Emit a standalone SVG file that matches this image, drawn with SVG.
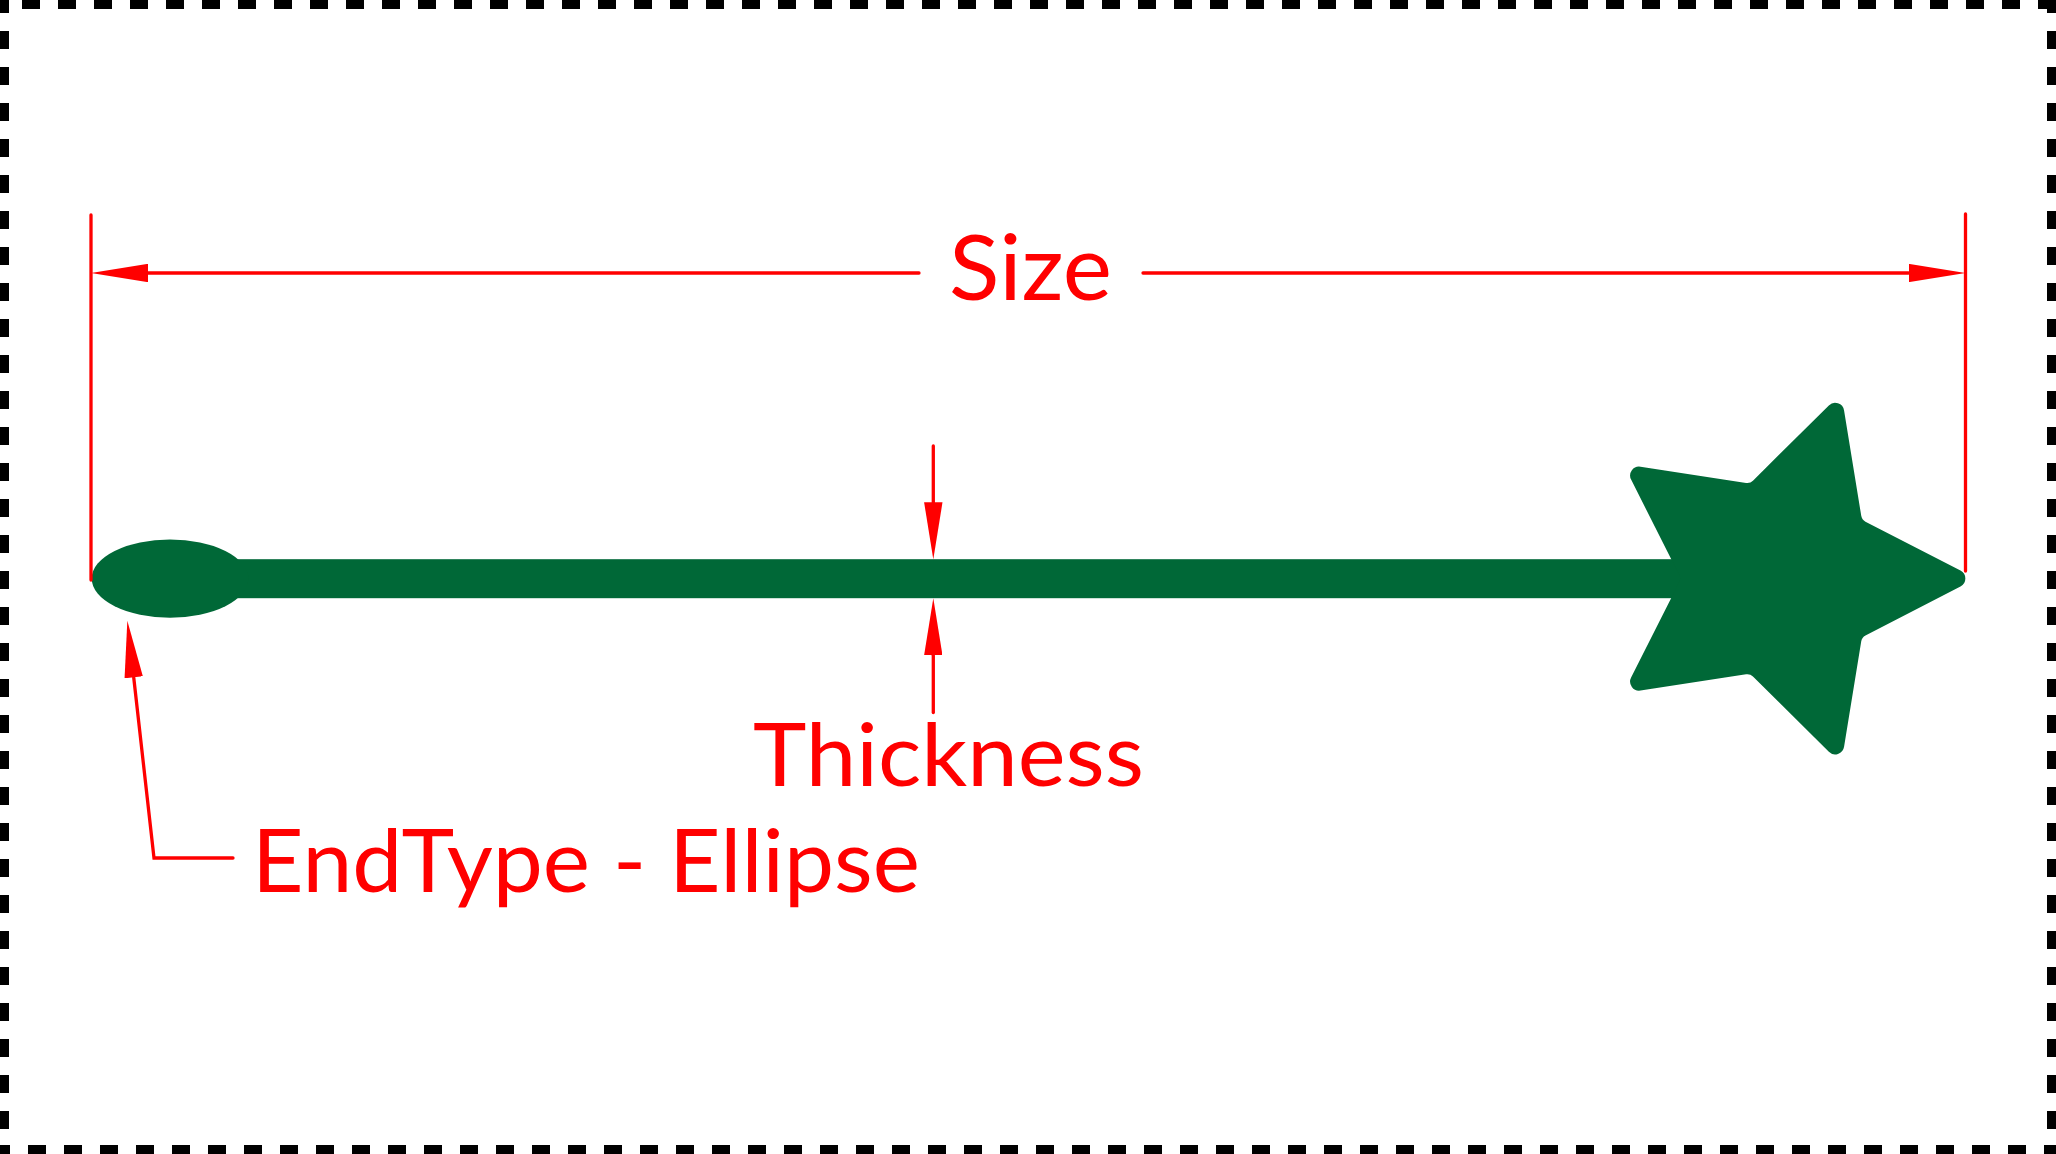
<svg xmlns="http://www.w3.org/2000/svg" width="2056" height="1154" viewBox="0 0 2056 1154">
  <style>
    .frame { stroke: #000000; stroke-width: 18; stroke-dasharray: 18 18; fill: none; }
    .shape { fill: #006837; }
    .dim { stroke: #FF0000; stroke-width: 3.3; fill: none; stroke-linecap: round; }
    .ext { stroke: #FF0000; stroke-width: 3.3; fill: none; stroke-linecap: round; }
    .label { fill: #FF0000; font-family: Lato, "Open Sans", "Liberation Sans", sans-serif; }
  </style>
  <defs>
    <marker id="arrow" markerUnits="userSpaceOnUse" viewBox="0 0 57 18.4" markerWidth="57" markerHeight="18.4" refX="0" refY="9.2" orient="auto">
      <path d="M0,0 L57,9.2 L0,18.4 Z" fill="#FF0000"/>
    </marker>
  </defs>
  <rect x="0" y="0" width="2056" height="1154" fill="#FFFFFF"/>

  <g id="frame">
    <line class="frame" x1="0" y1="0" x2="2056" y2="0" stroke-dashoffset="14"/>
    <line class="frame" x1="0" y1="0" x2="0" y2="1154" stroke-dashoffset="5"/>
    <line class="frame" x1="2056" y1="0" x2="2056" y2="1154" stroke-dashoffset="5"/>
    <line class="frame" x1="0" y1="1154" x2="2056" y2="1154" stroke-dashoffset="8"/>
  </g>

  <g id="line-shape">
    <rect class="shape" x="170" y="559.2" width="1530" height="39"/>
    <ellipse class="shape" cx="170" cy="578.6" rx="78.3" ry="39.2"/>
    <path class="shape" transform="translate(1781,578.6)" d="M179.47,8.00 A9,9 0 0 0 179.47,-8.00 L84.48,-56.93 A8,8 0 0 1 80.25,-62.76 L63.07,-168.22 A9,9 0 0 0 47.85,-173.16 L-28.04,-97.94 A8,8 0 0 1 -34.89,-95.72 L-140.49,-111.96 A9,9 0 0 0 -149.90,-99.02 L-101.81,-3.60 A8,8 0 0 1 -101.81,3.60 L-149.90,99.02 A9,9 0 0 0 -140.49,111.96 L-34.89,95.72 A8,8 0 0 1 -28.04,97.94 L47.85,173.16 A9,9 0 0 0 63.07,168.22 L80.25,62.76 A8,8 0 0 1 84.48,56.93 Z"/>
  </g>

  <g id="connectors">
    <line class="ext" x1="91" y1="215" x2="91" y2="580"/>
    <line class="ext" x1="1965.5" y1="214" x2="1965.5" y2="571"/>
    <line class="dim" x1="919" y1="273" x2="148" y2="273" marker-end="url(#arrow)"/>
    <line class="dim" x1="1143" y1="273" x2="1908.5" y2="273" marker-end="url(#arrow)"/>
    <line class="dim" x1="933.3" y1="446" x2="933.3" y2="502.3" marker-end="url(#arrow)"/>
    <line class="dim" x1="933.3" y1="712.5" x2="933.3" y2="655.3" marker-end="url(#arrow)"/>
    <polyline class="dim" points="233,858 154,858 133.7,677.3" stroke-linejoin="miter" marker-end="url(#arrow)"/>
  </g>

  <g id="label-size">
    <text class="label" x="949" y="300" font-size="91.5" textLength="163" lengthAdjust="spacingAndGlyphs">Size</text>
  </g>
  <g id="label-thickness">
    <text class="label" x="753" y="786" font-size="87.5" textLength="391" lengthAdjust="spacingAndGlyphs">Thickness</text>
  </g>
  <g id="label-endtype">
    <text class="label" x="252" y="891.5" font-size="86.5" textLength="668" lengthAdjust="spacingAndGlyphs">EndType - Ellipse</text>
  </g>
</svg>
